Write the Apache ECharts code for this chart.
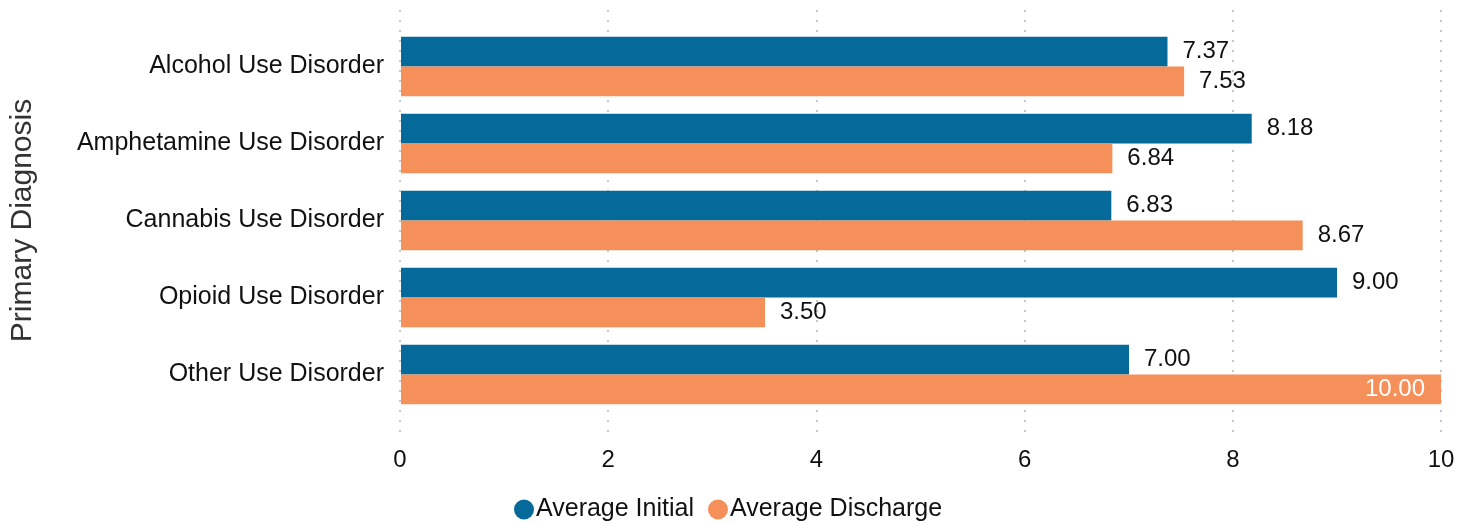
<!DOCTYPE html>
<html><head><meta charset="utf-8">
<script src="https://cdn.jsdelivr.net/npm/echarts@6/dist/echarts.min.js"></script>
<style>html,body{margin:0;padding:0;background:#fff}#c{width:1470px;height:524px}</style>
</head><body><div id="c"></div>
<script>
const categories = ["Alcohol Use Disorder","Amphetamine Use Disorder","Cannabis Use Disorder","Opioid Use Disorder","Other Use Disorder"];
const averageInitial = [7.37, 8.18, 6.83, 9.00, 7.00];
const averageDischarge = [7.53, 6.84, 8.67, 3.50, 10.00];
const xTicks = [0, 2, 4, 6, 8, 10];

const FONT = '"Liberation Sans", Arial, sans-serif';
const AX_MAX = 10;
function mk(arr){
  return arr.map(v => v >= AX_MAX ? {value:v, label:{position:'insideRight', color:'#fff', distance:16}} : v);
}
const chart = echarts.init(document.getElementById('c'));
chart.setOption({
  animation:false,
  textStyle:{fontFamily:FONT},
  grid:[
    {left:400, right:29, top:28, height:385, containLabel:false},
    {left:400, right:29, top:10, bottom:87, containLabel:false}
  ],
  legend:{
    top:492, left:509, icon:'circle', itemWidth:20, itemHeight:20, itemGap:14,
    textStyle:{fontSize:25, color:'#111', fontFamily:FONT, padding:[0,0,0,-3]},
    data:['Average Initial','Average Discharge']
  },
  xAxis:[
    {gridIndex:0, type:'value', min:0, max:AX_MAX, interval:2,
     axisLine:{show:false}, axisTick:{show:false}, axisLabel:{show:false}, splitLine:{show:false}},
    {gridIndex:1, type:'value', min:0, max:AX_MAX, interval:2,
     axisLine:{show:false}, axisTick:{show:false},
     axisLabel:{fontSize:24, color:'#111', margin:11, fontFamily:FONT,
       formatter: v => xTicks.includes(v) ? String(v) : ''},
     splitLine:{show:true, lineStyle:{color:'#c8c8c8', width:2, type:[2,8]}}}
  ],
  yAxis:[
    {gridIndex:0, type:'category', data:categories, inverse:true,
     axisLine:{show:false}, axisTick:{show:false},
     axisLabel:{fontSize:25, color:'#111', margin:17, fontFamily:FONT},
     name:'Primary Diagnosis', nameLocation:'middle', nameRotate:90, nameGap:363,
     nameTextStyle:{fontSize:30, color:'#333', fontFamily:FONT}},
    {gridIndex:1, type:'value', show:false, min:0, max:1}
  ],
  series:[
    {name:'Average Initial', type:'bar', xAxisIndex:0, yAxisIndex:0, data:mk(averageInitial),
     itemStyle:{color:'#05699a'}, barGap:'0%', barCategoryGap:'23%',
     label:{show:true, position:'right', distance:15, fontSize:24, color:'#111', fontFamily:FONT,
       formatter:p => Number(p.value).toFixed(2)}},
    {name:'Average Discharge', type:'bar', xAxisIndex:0, yAxisIndex:0, data:mk(averageDischarge),
     itemStyle:{color:'#f5905a'}, barGap:'0%', barCategoryGap:'23%',
     label:{show:true, position:'right', distance:15, fontSize:24, color:'#111', fontFamily:FONT,
       formatter:p => Number(p.value).toFixed(2)}}
  ]
});
</script></body></html>
